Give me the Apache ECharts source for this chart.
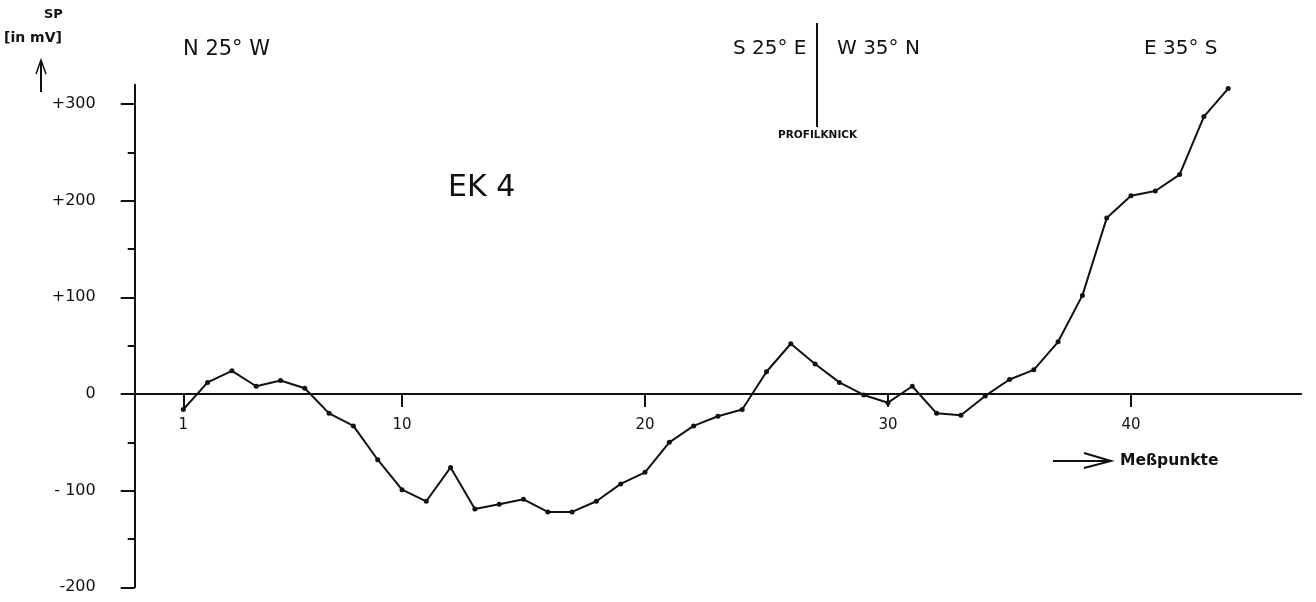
<!DOCTYPE html>
<html>
<head>
<meta charset="utf-8">
<title>EK 4 – SP-Profil</title>
<script src="https://cdn.jsdelivr.net/npm/echarts@6/dist/echarts.min.js"></script>
<style>
  html, body { margin: 0; padding: 0; background: #fff; }
  #chart { width: 1316px; height: 602px; }
</style>
</head>
<body>
<div id="chart"></div>
<script>
// Eigenpotential (SP) in mV an den Messpunkten 1–44, Profil EK 4
const measurePoints = Array.from({ length: 44 }, (_, i) => i + 1);
const spValues = [
  -16, 12, 24, 8, 14, 6, -20, -33, -68, -99,
  -111, -76, -119, -114, -109, -122, -122, -111, -93, -81,
  -50, -33, -23, -16, 23, 52, 31, 12, -1, -9,
  8, -20, -22, -2, 15, 25, 54, 102, 182, 205,
  210, 227, 287, 316
];

// Achsenbeschriftung
const xTickValues = [1, 10, 20, 30, 40];
const yTickValues = [-200, -100, 0, 100, 200, 300];
const yMinorTickValues = [-150, -50, 50, 150, 250];
const yTickLabels = { '-200': '-200', '-100': '- 100', '0': '0', '100': '+100', '200': '+200', '300': '+300' };

const Y_MIN = -200, Y_MAX = 320;
const X_MIN = -1, X_MAX = 47;

const FONT = "'DejaVu Sans', 'Liberation Sans', sans-serif";
const INK = '#111';

const GRID = { left: 134.7, right: 14.9, top: 84.7, bottom: 14.7 };
const PLOT_H = 602 - GRID.top - GRID.bottom;
// Abstand der Nulllinie vom unteren Diagrammrand (für die Messpunkt-Beschriftung)
const zeroLineOffset = PLOT_H * (0 - Y_MIN) / (Y_MAX - Y_MIN);

const chart = echarts.init(document.getElementById('chart'), null, { renderer: 'canvas' });

const textStyle = (size, weight) => ({ fill: INK, font: `${weight || 'normal'} ${size}px ${FONT}` });

chart.setOption({
  animation: false,
  backgroundColor: '#fff',
  grid: { ...GRID, outerBoundsMode: 'none' },
  xAxis: [
    {
      type: 'value',
      min: X_MIN,
      max: X_MAX,
      axisLine: { onZero: true, lineStyle: { color: INK, width: 2 } },
      axisTick: { show: true, customValues: xTickValues, length: 13, lineStyle: { color: INK, width: 2 } },
      axisLabel: { show: false },
      splitLine: { show: false }
    },
    {
      // nur Beschriftung der Messpunkte unterhalb der Nulllinie
      type: 'value',
      min: X_MIN,
      max: X_MAX,
      position: 'bottom',
      offset: -zeroLineOffset,
      axisLine: { show: false, onZero: false },
      axisTick: { show: false },
      axisLabel: { customValues: xTickValues, margin: 24, color: INK, fontSize: 15, fontFamily: FONT },
      splitLine: { show: false }
    }
  ],
  yAxis: [
    {
      type: 'value',
      min: Y_MIN,
      max: Y_MAX,
      axisLine: { show: true, onZero: false, lineStyle: { color: INK, width: 2 } },
      axisTick: { show: true, customValues: yTickValues, length: 14, lineStyle: { color: INK, width: 2 } },
      axisLabel: {
        customValues: yTickValues,
        margin: 39,
        color: INK,
        fontSize: 16,
        fontFamily: FONT,
        formatter: v => yTickLabels[String(v)]
      },
      splitLine: { show: false }
    },
    {
      type: 'value',
      min: Y_MIN,
      max: Y_MAX,
      position: 'left',
      axisLine: { show: false, onZero: false },
      axisTick: { show: true, customValues: yMinorTickValues, length: 7, lineStyle: { color: INK, width: 2 } },
      axisLabel: { show: false },
      splitLine: { show: false }
    }
  ],
  series: [{
    type: 'line',
    xAxisIndex: 0,
    yAxisIndex: 0,
    data: measurePoints.map((p, i) => [p, spValues[i]]),
    symbol: 'circle',
    symbolSize: 5,
    lineStyle: { color: INK, width: 2 },
    itemStyle: { color: INK },
    clip: false
  }],
  graphic: [
    // Achsentitel
    { type: 'text', left: 44, top: 8, style: { text: 'SP', ...textStyle(13, 'bold') } },
    { type: 'text', left: 4, top: 31, style: { text: '[in mV]', ...textStyle(14, 'bold') } },
    { type: 'polyline', shape: { points: [[41, 92], [41, 61]] }, style: { stroke: INK, lineWidth: 2 } },
    { type: 'polyline', shape: { points: [[36, 74], [41, 60], [46, 74]] }, style: { stroke: INK, lineWidth: 1.5, fill: null } },

    // Profilrichtungen
    { type: 'text', left: 183, top: 39, style: { text: 'N 25° W', ...textStyle(21) } },
    { type: 'text', left: 733, top: 39, style: { text: 'S 25° E', ...textStyle(20) } },
    { type: 'text', left: 837, top: 39, style: { text: 'W 35° N', ...textStyle(20) } },
    { type: 'text', left: 1144, top: 39, style: { text: 'E 35° S', ...textStyle(20) } },

    // Profilknick
    { type: 'line', shape: { x1: 817, y1: 23, x2: 817, y2: 127 }, style: { stroke: INK, lineWidth: 2 } },
    { type: 'text', left: 778, top: 130, style: { text: 'PROFILKNICK', ...textStyle(10.5, 'bold') } },

    // Profilbezeichnung
    { type: 'text', left: 448, top: 173, style: { text: 'EK 4', ...textStyle(30) } },

    // Messpunkt-Pfeil
    { type: 'line', shape: { x1: 1053, y1: 461, x2: 1110, y2: 461 }, style: { stroke: INK, lineWidth: 2 } },
    { type: 'polyline', shape: { points: [[1084, 453], [1111, 461], [1084, 468]] }, style: { stroke: INK, lineWidth: 2, fill: null } },
    { type: 'text', left: 1120, top: 453, style: { text: 'Meßpunkte', ...textStyle(15.5, 'bold') } }
  ]
});
</script>
</body>
</html>
